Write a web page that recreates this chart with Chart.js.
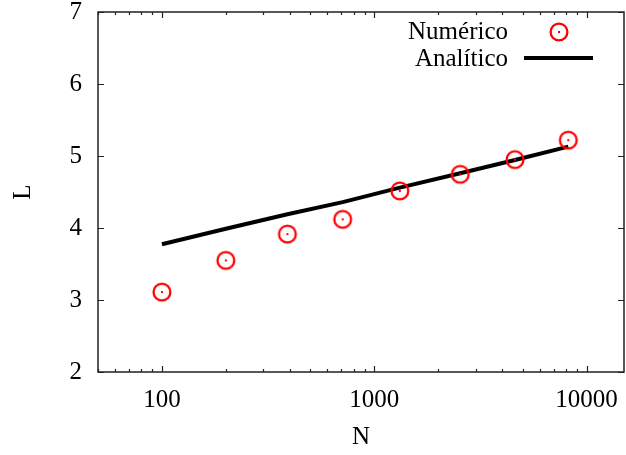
<!DOCTYPE html>
<html lang="pt">
<head>
  <meta charset="UTF-8">
  <title>L vs N</title>
  <script src="https://cdn.jsdelivr.net/npm/chart.js"></script>
  <style>
    html, body {
      margin: 0;
      padding: 0;
      background: #fff;
    }
    #wrap {
      width: 626px;
      height: 455px;
    }
  </style>
</head>
<body>
  <div id="wrap"><canvas id="chart"></canvas></div>

  <script>
    // values
    const nValues   = [100, 200, 390, 710, 1320, 2540, 4600, 8200];
    const numerico  = [3.11, 3.55, 3.915, 4.12, 4.515, 4.745, 4.95, 5.22];
    const analitico = [3.775, 3.99, 4.19, 4.36, 4.56, 4.76, 4.945, 5.13];
    const xTicks = [100, 1000, 10000];
    const yTicks = [2, 3, 4, 5, 6, 7];
    const labels = ["Numérico", "Analítico"];

    const FONT = "'Liberation Serif', 'Times New Roman', serif";

    // gnuplot style circle with a dot in the middle
    function circleDot(color) {
      const c = document.createElement("canvas");
      c.width = 24;
      c.height = 24;
      const g = c.getContext("2d");
      g.strokeStyle = color;
      g.lineWidth = 2.3;
      g.beginPath();
      g.arc(12, 12, 8.4, 0, Math.PI * 2);
      g.stroke();
      g.fillStyle = color;
      g.fillRect(11, 11, 2, 2);
      return c;
    }
    const marker = circleDot("#ff0000");

    // frame, inward ticks on all four sides, and the key
    const framePlugin = {
      id: "frame",
      afterDraw(chart) {
        const { ctx, chartArea: a, scales } = chart;
        const x = scales.x, y = scales.y;
        ctx.save();
        ctx.strokeStyle = "#222";
        ctx.lineWidth = 1.5;
        ctx.strokeRect(a.left, a.top, a.right - a.left, a.bottom - a.top);

        ctx.lineWidth = 1.2;
        ctx.beginPath();
        yTicks.forEach(v => {
          const py = Math.round(y.getPixelForValue(v)) + 0.5;
          ctx.moveTo(a.left, py); ctx.lineTo(a.left + 6, py);
          ctx.moveTo(a.right, py); ctx.lineTo(a.right - 6, py);
        });
        for (let d = 10; d <= 10000; d *= 10) {
          for (let m = 1; m <= 9; m++) {
            const v = m * d;
            if (v < x.min || v > x.max) continue;
            const len = m === 1 ? 6 : 3;
            const px = Math.round(x.getPixelForValue(v)) + 0.5;
            ctx.moveTo(px, a.bottom); ctx.lineTo(px, a.bottom - len);
            ctx.moveTo(px, a.top); ctx.lineTo(px, a.top + len);
          }
        }
        ctx.stroke();

        // key
        ctx.font = "25px " + FONT;
        ctx.fillStyle = "#000";
        ctx.textAlign = "right";
        ctx.textBaseline = "middle";
        ctx.fillText(chart.data.datasets[0].label, 508, 32);
        ctx.fillText(chart.data.datasets[1].label, 508, 59);
        ctx.drawImage(marker, 559 - 12, 32 - 12);
        ctx.strokeStyle = "#000";
        ctx.lineWidth = 4;
        ctx.beginPath();
        ctx.moveTo(524, 58);
        ctx.lineTo(593, 58);
        ctx.stroke();
        ctx.restore();
      }
    };

    const ctx = document.getElementById("chart").getContext("2d");
    new Chart(ctx, {
      type: "line",
      data: {
        datasets: [
          {
            label: labels[0],
            data: nValues.map((n, i) => ({ x: n, y: numerico[i] })),
            showLine: false,
            pointStyle: marker,
            pointRadius: 10,
            order: 1
          },
          {
            label: labels[1],
            data: nValues.map((n, i) => ({ x: n, y: analitico[i] })),
            borderColor: "#000",
            borderWidth: 4,
            pointRadius: 0,
            fill: false,
            tension: 0,
            order: 2
          }
        ]
      },
      options: {
        responsive: true,
        maintainAspectRatio: false,
        animation: false,
        layout: {
          autoPadding: false,
          padding: { top: 12, right: 2, left: 0, bottom: 0 }
        },
        plugins: {
          legend: { display: false },
          tooltip: { enabled: false }
        },
        scales: {
          x: {
            type: "logarithmic",
            min: 50,
            max: 15000,
            afterBuildTicks: s => { s.ticks = xTicks.map(v => ({ value: v })); },
            afterFit: s => {
              s.height = 83;
              s.paddingLeft = 0;
              s.paddingRight = 0;
            },
            grid: { display: false, drawTicks: false },
            border: { display: false },
            ticks: {
              callback: v => String(v),
              autoSkip: false,
              maxRotation: 0,
              padding: 13,
              color: "#000",
              font: { family: FONT, size: 25 }
            },
            title: {
              display: true,
              text: "N",
              color: "#000",
              padding: { top: 0, bottom: 3 },
              font: { family: FONT, size: 25 }
            }
          },
          y: {
            min: 2,
            max: 7,
            afterBuildTicks: s => { s.ticks = yTicks.map(v => ({ value: v })); },
            afterFit: s => {
              s.width = 98;
              s.paddingTop = 0;
              s.paddingBottom = 0;
            },
            grid: { display: false, drawTicks: false },
            border: { display: false },
            ticks: {
              padding: 16,
              color: "#000",
              font: { family: FONT, size: 25 }
            },
            title: {
              display: true,
              text: "L",
              color: "#000",
              padding: { top: 8, bottom: 0 },
              font: { family: FONT, size: 25 }
            }
          }
        }
      },
      plugins: [framePlugin]
    });
  </script>
</body>
</html>
